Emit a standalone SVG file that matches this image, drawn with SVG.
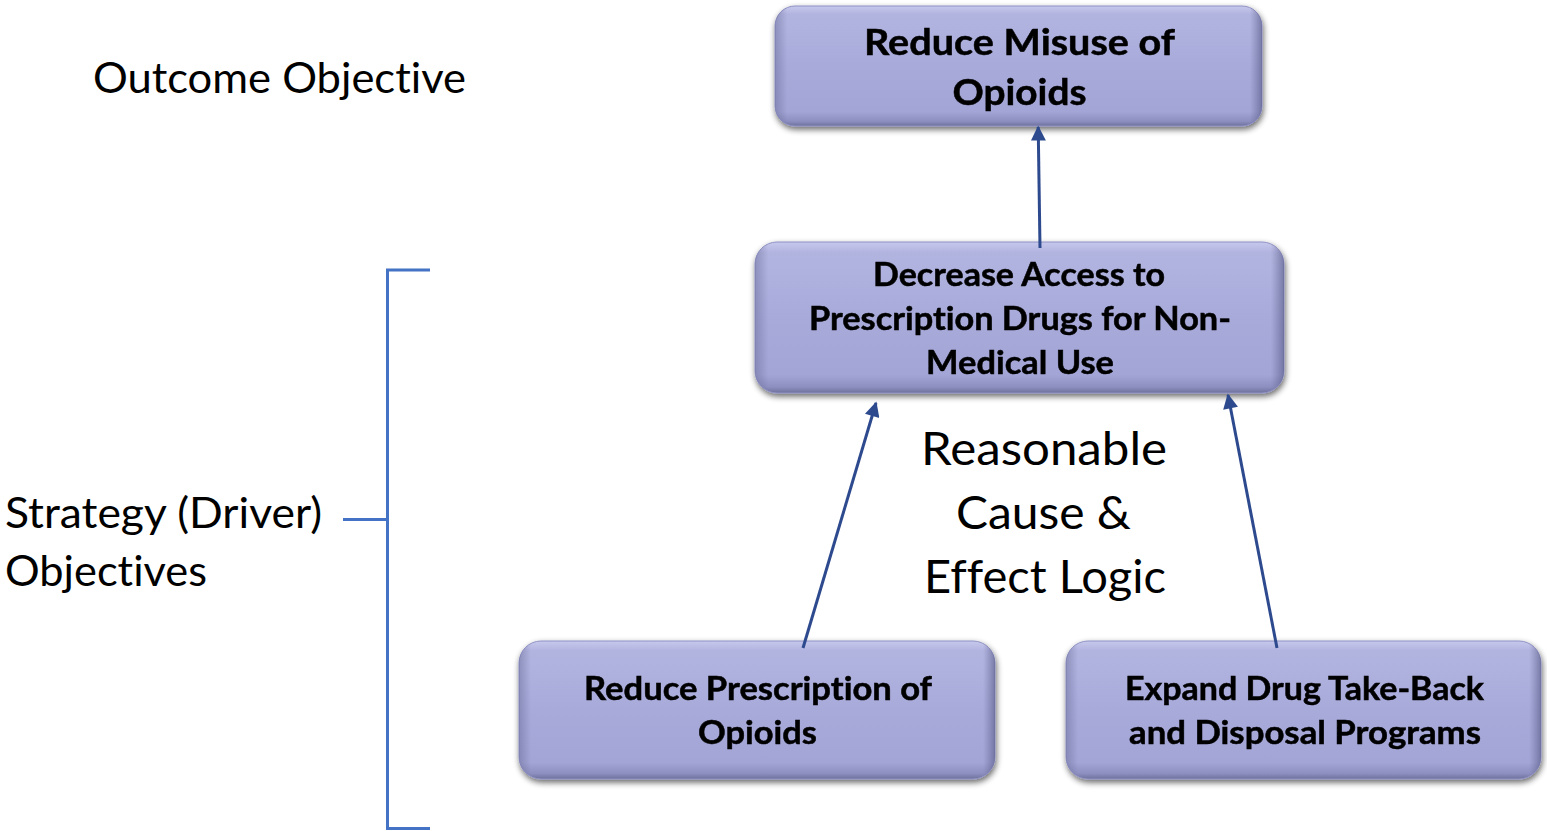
<svg xmlns="http://www.w3.org/2000/svg" width="1547" height="831" viewBox="0 0 1547 831">
  <defs>
    <linearGradient id="boxV" x1="0" y1="0" x2="0" y2="1">
      <stop offset="0" stop-color="#c6c8ec"/>
      <stop offset="0.07" stop-color="#b2b4e0"/>
      <stop offset="0.5" stop-color="#a8aada"/>
      <stop offset="0.88" stop-color="#a3a5d6"/>
      <stop offset="0.96" stop-color="#8d8fc0"/>
      <stop offset="1" stop-color="#6e709c"/>
    </linearGradient>
    <linearGradient id="boxH" x1="0" y1="0" x2="1" y2="0">
      <stop offset="0" stop-color="#5a5c88" stop-opacity="0.4"/>
      <stop offset="0.025" stop-color="#5a5c88" stop-opacity="0"/>
      <stop offset="0.975" stop-color="#5a5c88" stop-opacity="0"/>
      <stop offset="1" stop-color="#4a4c78" stop-opacity="0.55"/>
    </linearGradient>
    <filter id="shadow" x="-5%" y="-10%" width="110%" height="125%">
      <feGaussianBlur in="SourceAlpha" stdDeviation="3"/>
      <feOffset dx="1" dy="3" result="b"/>
      <feComponentTransfer><feFuncA type="linear" slope="0.6"/></feComponentTransfer>
      <feMerge><feMergeNode/><feMergeNode in="SourceGraphic"/></feMerge>
    </filter>
    <marker id="arrow" viewBox="0 0 10 10" refX="9" refY="5" markerWidth="5.5" markerHeight="5" orient="auto" markerUnits="strokeWidth">
      <path d="M0,0 L10,5 L0,10 z" fill="#2e4a8e"/>
    </marker>
  </defs>
  <style>
    .box { fill: url(#boxV); stroke: #9092c4; stroke-width: 1; }
    .bev { fill: url(#boxH); }
    .bt { font-family: Lato, "Open Sans", "Liberation Sans", sans-serif; font-weight: bold; fill: #000; text-anchor: middle; font-variant-ligatures: none; stroke: #000; stroke-width: 0.5; }
    .lbl { font-family: Lato, "Open Sans", "Liberation Sans", sans-serif; fill: #000; font-variant-ligatures: none; }
    .conn { stroke: #2e4a8e; stroke-width: 3; fill: none; marker-end: url(#arrow); }
    .brk { stroke: #4472c4; stroke-width: 3; fill: none; }
  </style>
  <rect width="1547" height="831" fill="#ffffff"/>

  <g id="labels">
    <text class="lbl" x="93" y="93" font-size="42" textLength="373" lengthAdjust="spacingAndGlyphs">Outcome Objective</text>
    <text class="lbl" x="5" y="528" font-size="42" textLength="317" lengthAdjust="spacingAndGlyphs">Strategy (Driver)</text>
    <text class="lbl" x="5" y="586" font-size="42" textLength="202" lengthAdjust="spacingAndGlyphs">Objectives</text>
  </g>

  <g id="bracket">
    <path class="brk" d="M430,270 H387.5 V828.5 H430"/>
    <path class="brk" d="M343,519.5 H387"/>
  </g>

  <g id="logic-label">
    <text class="lbl" x="1044" y="465" font-size="46" text-anchor="middle" textLength="246" lengthAdjust="spacingAndGlyphs">Reasonable</text>
    <text class="lbl" x="1043.5" y="529" font-size="46" text-anchor="middle" textLength="175" lengthAdjust="spacingAndGlyphs">Cause &amp;</text>
    <text class="lbl" x="1045" y="593" font-size="46" text-anchor="middle" textLength="242" lengthAdjust="spacingAndGlyphs">Effect Logic</text>
  </g>

  <g id="node-outcome" filter="url(#shadow)">
    <rect class="box" x="775" y="6" width="487" height="120" rx="20"/>
    <rect class="bev" x="775" y="6" width="487" height="120" rx="20"/>
    <text class="bt" x="1019.5" y="55" font-size="37" textLength="311" lengthAdjust="spacingAndGlyphs">Reduce Misuse of</text>
    <text class="bt" x="1019.5" y="105" font-size="37" textLength="134" lengthAdjust="spacingAndGlyphs">Opioids</text>
  </g>

  <g id="node-decrease-access" filter="url(#shadow)">
    <rect class="box" x="755" y="242" width="529" height="151" rx="22"/>
    <rect class="bev" x="755" y="242" width="529" height="151" rx="22"/>
    <text class="bt" x="1019" y="286" font-size="33" textLength="292" lengthAdjust="spacingAndGlyphs">Decrease Access to</text>
    <text class="bt" x="1020" y="330" font-size="33" textLength="422" lengthAdjust="spacingAndGlyphs">Prescription Drugs for Non-</text>
    <text class="bt" x="1020" y="374" font-size="33" textLength="188" lengthAdjust="spacingAndGlyphs">Medical Use</text>
  </g>

  <g id="node-reduce-prescription" filter="url(#shadow)">
    <rect class="box" x="519" y="641" width="476" height="138" rx="22"/>
    <rect class="bev" x="519" y="641" width="476" height="138" rx="22"/>
    <text class="bt" x="758" y="700" font-size="33" textLength="348" lengthAdjust="spacingAndGlyphs">Reduce Prescription of</text>
    <text class="bt" x="757.5" y="744" font-size="33" textLength="119" lengthAdjust="spacingAndGlyphs">Opioids</text>
  </g>

  <g id="node-take-back" filter="url(#shadow)">
    <rect class="box" x="1066" y="641" width="475" height="138" rx="22"/>
    <rect class="bev" x="1066" y="641" width="475" height="138" rx="22"/>
    <text class="bt" x="1304.5" y="700" font-size="33" textLength="359" lengthAdjust="spacingAndGlyphs">Expand Drug Take-Back</text>
    <text class="bt" x="1305" y="744" font-size="33" textLength="352" lengthAdjust="spacingAndGlyphs">and Disposal Programs</text>
  </g>

  <g id="connectors">
    <line class="conn" x1="1040" y1="248" x2="1038.2" y2="127"/>
    <line class="conn" x1="803" y1="648" x2="876" y2="403"/>
    <line class="conn" x1="1277" y1="648" x2="1228" y2="395"/>
  </g>
</svg>
